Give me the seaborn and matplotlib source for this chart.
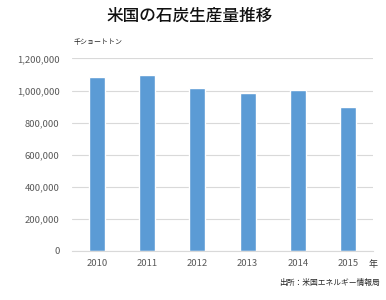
import matplotlib
matplotlib.use("Agg")
import matplotlib.pyplot as plt
import matplotlib.ticker as mticker
import seaborn as sns
import pandas as pd

years = ["2010", "2011", "2012", "2013", "2014", "2015"]
production = [1084368, 1095628, 1016458, 984842, 1000049, 896941]
yticks = [0, 200000, 400000, 600000, 800000, 1000000, 1200000]

title = "米国の石炭生産量推移"
unit_label = "千ショートトン"
x_unit = "年"
source = "出所：米国エネルギー情報局"

sns.set_theme(style="white")
plt.rcParams['font.family'] = ['Noto Sans CJK JP', 'DejaVu Sans']

df = pd.DataFrame({"year": years, "value": production})

fig = plt.figure(figsize=(3.86, 3.0), dpi=100)
ax = fig.add_axes([0.1865, 0.165, 0.78, 0.64])

sns.barplot(data=df, x="year", y="value", color="#5B9BD5", width=0.32,
            saturation=1, ax=ax)

ax.set_ylim(0, 1200000)
ax.set_yticks(yticks)
ax.yaxis.set_major_formatter(mticker.FuncFormatter(lambda v, p: f"{int(v):,}"))
ax.grid(axis="y", color="#D9D9D9", linewidth=0.8)
ax.set_axisbelow(True)
for s in ["top", "right", "left"]:
    ax.spines[s].set_visible(False)
ax.spines["bottom"].set_color("#D9D9D9")
ax.spines["bottom"].set_linewidth(0.8)
ax.tick_params(axis="both", length=0, colors="#595959", labelsize=6.8)
ax.tick_params(axis="y", pad=9)
ax.tick_params(axis="x", pad=6)
ax.set_xlabel("")
ax.set_ylabel("")

fig.text(0.492, 0.947, title, ha="center", va="center", fontsize=12,
         color="#111111", fontweight="medium")
fig.text(0.19, 0.86, unit_label, ha="left", va="center", fontsize=5,
         color="#222222")
fig.text(0.967, 0.117, x_unit, ha="center", va="center", fontsize=6.5,
         color="#333333")
fig.text(0.985, 0.057, source, ha="right", va="center", fontsize=5.6,
         color="#222222")

fig.savefig("out.png", dpi=100)
